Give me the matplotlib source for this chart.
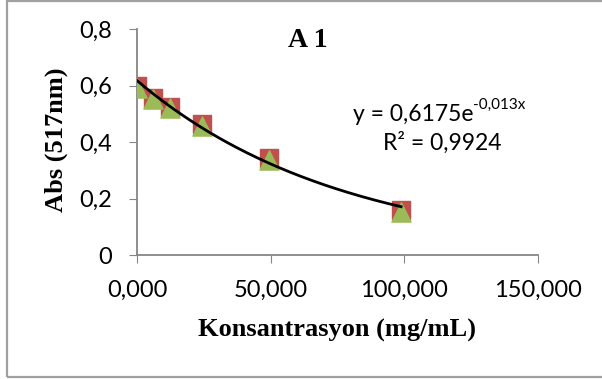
import matplotlib.pyplot as plt
import numpy as np
from matplotlib.patches import Rectangle

# data
konsantrasyon = [0.0, 6.1, 12.3, 24.5, 49.4, 98.8]
abs_517 = [0.598, 0.557, 0.525, 0.464, 0.343, 0.159]
fit_a = 0.6175
fit_b = -0.013
r2 = 0.9924

x_ticks = [0, 50, 100, 150]
y_ticks = [0, 0.2, 0.4, 0.6, 0.8]


def comma(v, digits):
    return f"{v:.{digits}f}".replace(".", ",")


fig = plt.figure(figsize=(6.02, 3.79), dpi=100)
# outer chart frame (runs off the right edge like the original)
fig.patches.append(Rectangle((7 / 602, 2 / 379), 1.0, 376.5 / 379, transform=fig.transFigure,
                             fill=False, edgecolor="#a0a0a0", linewidth=1.6))
ax = fig.add_axes([137 / 602, 1 - 255 / 379, 401 / 602, 226 / 379])

ax.scatter(konsantrasyon, abs_517, marker="s", s=185, color="#C0504D", zorder=2)
ax.scatter(konsantrasyon, np.array(abs_517) - 0.006, marker="^", s=190, color="#9BBB59", zorder=3)

xs = np.linspace(0, max(konsantrasyon), 200)
ax.plot(xs, fit_a * np.exp(fit_b * xs), color="black", linewidth=2, zorder=4)

ax.set_xlim(0, 150)
ax.set_ylim(0, 0.8)
ax.set_xticks(x_ticks)
ax.set_yticks(y_ticks)
ax.set_xticklabels([comma(v, 3) for v in x_ticks], fontfamily="Lato", fontsize=17)
ax.set_yticklabels(["0" if v == 0 else comma(v, 1) for v in y_ticks],
                   fontfamily="Lato", fontsize=17)
ax.tick_params(axis="x", direction="out", length=6, color="#868686", pad=12)
ax.tick_params(axis="y", direction="out", length=6, color="#868686", pad=12)
for side in ["top", "right"]:
    ax.spines[side].set_visible(False)
for side in ["left", "bottom"]:
    ax.spines[side].set_color("#868686")
    ax.spines[side].set_linewidth(1.3)

ax.set_xlabel("Konsantrasyon (mg/mL)", fontfamily="Liberation Serif", fontweight="bold",
              fontsize=19, va="center")
ax.set_ylabel("Abs (517nm)", fontfamily="Liberation Serif", fontweight="bold",
              fontsize=19, va="center")
ax.xaxis.set_label_coords(0.5, (255 - 330) / 226)
ax.yaxis.set_label_coords((56 - 137) / 401, 0.51)

ax.text((308 - 137) / 401, (255 - 40) / 226, "A 1", transform=ax.transAxes,
        fontfamily="Liberation Serif", fontweight="bold", fontsize=20, ha="center", va="center")

# trendline equation, exponent as a separate smaller text
base = ax.text((353 - 137) / 401, (255 - 114) / 226, "y = " + str(fit_a).replace(".", ",") + "e",
               transform=ax.transAxes, fontfamily="Lato", fontsize=16.5, ha="left", va="center")
ax.annotate(str(fit_b).replace(".", ",") + "x", xy=(1.0, 0.62), xycoords=base,
            fontfamily="Lato", fontsize=11, ha="left", va="bottom")
ax.text((442 - 137) / 401, (255 - 143) / 226, "R² = " + str(r2).replace(".", ","),
        transform=ax.transAxes, fontfamily="Lato", fontsize=16.5, ha="center", va="center")

fig.savefig("out.png", dpi=100)
